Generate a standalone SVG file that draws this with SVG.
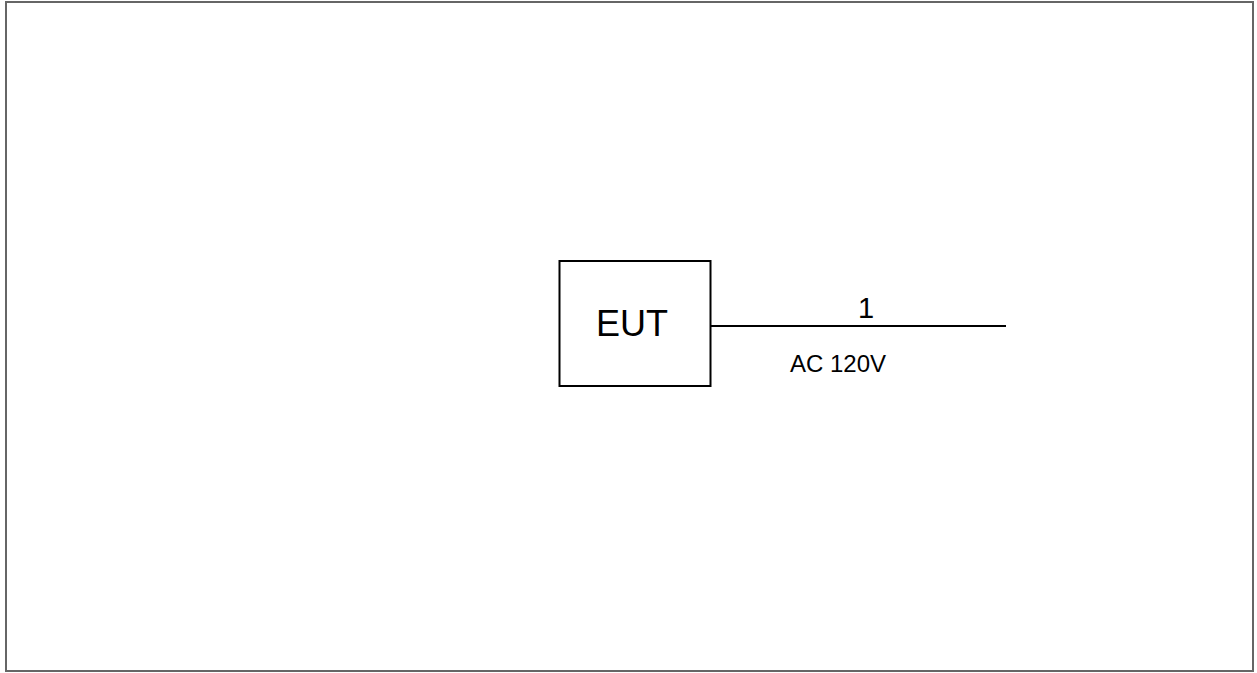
<svg xmlns="http://www.w3.org/2000/svg" width="1257" height="673" viewBox="0 0 1257 673">
<style>
.lbl{font-family:"Liberation Sans",Arial,sans-serif;fill:#000}
.edge{stroke:#000;stroke-width:2;fill:none}
</style>
<rect x="0" y="0" width="1257" height="673" fill="#fff"/>
<rect id="frame" x="6" y="2" width="1247" height="669" fill="none" stroke="#666" stroke-width="2"/>
<g id="eut">
<rect x="559.5" y="261" width="151" height="125" fill="#fff" stroke="#000" stroke-width="2"/>
<text class="lbl" x="632" y="336" font-size="36" text-anchor="middle">EUT</text>
</g>
<g id="connectors">
<line class="edge" x1="710" y1="326" x2="1006" y2="326"/>
<text class="lbl" x="866" y="318" font-size="29" text-anchor="middle">1</text>
<text class="lbl" x="838" y="372" font-size="24" text-anchor="middle">AC 120V</text>
</g>
</svg>
